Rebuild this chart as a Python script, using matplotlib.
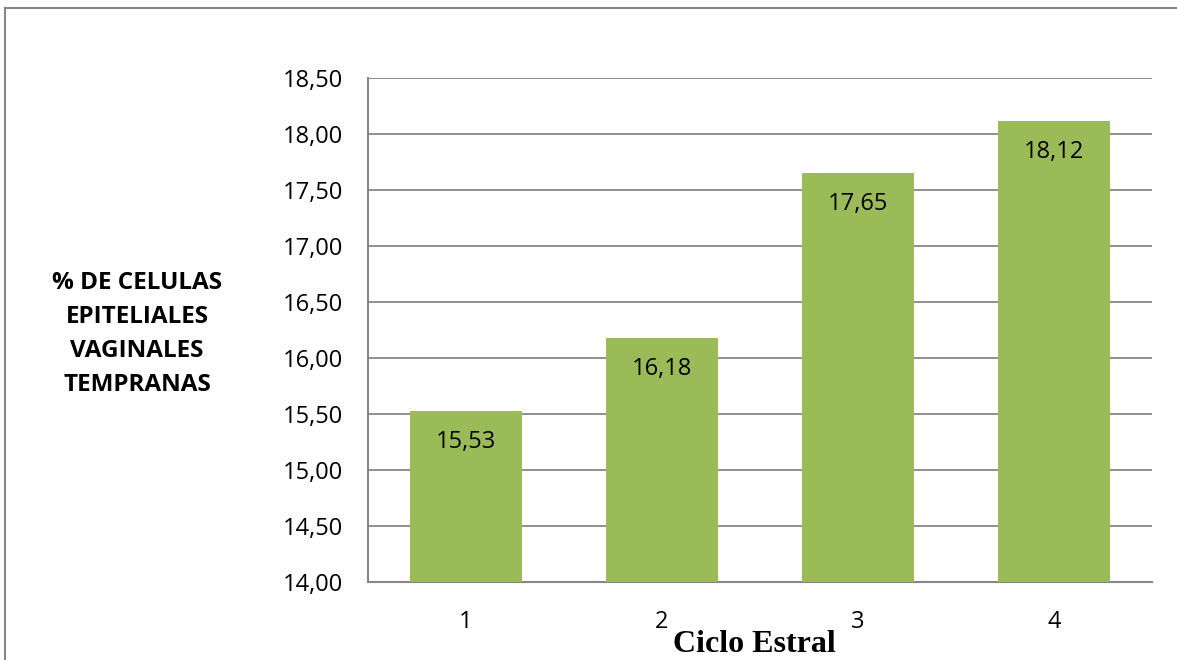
import matplotlib
matplotlib.use('Agg')
import matplotlib.pyplot as plt
from matplotlib.lines import Line2D
from matplotlib.ticker import MultipleLocator, FuncFormatter

# Porcentaje medio por ciclo estral
ciclos = ['1', '2', '3', '4']
porcentajes = [15.53, 16.18, 17.65, 18.12]

verde = '#9BBB59'
gris = '#868686'

fig = plt.figure(figsize=(11.77, 6.6), dpi=100)
ax = fig.add_axes([0.3127, 0.1182, 0.6661, 0.7636])

x = list(range(len(ciclos)))
ax.bar(x, porcentajes, width=0.571, color=verde, zorder=3)

ax.set_xlim(-0.5, len(ciclos) - 0.5)
ax.set_ylim(14.0, 18.5)
ax.yaxis.set_major_locator(MultipleLocator(0.5))
ax.yaxis.set_major_formatter(FuncFormatter(lambda v, p: f'{v:.2f}'.replace('.', ',')))
ax.set_xticks(x)
ax.set_xticklabels(ciclos)

ax.grid(axis='y', color=gris, linewidth=1.3, zorder=0)
for side in ['top', 'right']:
    ax.spines[side].set_visible(False)
for side in ['left', 'bottom']:
    ax.spines[side].set_color(gris)
    ax.spines[side].set_linewidth(1.5)
ax.tick_params(axis='both', length=0, labelsize=17)
ax.tick_params(axis='y', pad=18)
ax.tick_params(axis='x', pad=20)
for lbl in ax.get_xticklabels() + ax.get_yticklabels():
    lbl.set_fontfamily('Open Sans')

# Etiquetas de valor dentro de cada barra
for xi, val in zip(x, porcentajes):
    ax.annotate(f'{val:.2f}'.replace('.', ','), (xi, val), xytext=(0, -22.5),
                textcoords='offset points', ha='center', va='center',
                fontsize=17, fontfamily='Open Sans', zorder=4)

fig.text(0.1164, 0.494, '% DE CELULAS\nEPITELIALES\nVAGINALES\nTEMPRANAS',
         ha='center', va='center', multialignment='center', fontsize=17.5,
         fontweight='bold', fontfamily='Open Sans', linespacing=1.56)

fig.text(0.6406, 0.023, 'Ciclo Estral', ha='center', va='center', fontsize=23,
         fontweight='bold', fontfamily='Liberation Serif')

# Marco del gráfico
fig.add_artist(Line2D([5 / 1177, 5 / 1177], [0, 1 - 8 / 660], color=gris, linewidth=1.5))
fig.add_artist(Line2D([5 / 1177, 1], [1 - 8 / 660, 1 - 8 / 660], color=gris, linewidth=1.5))

fig.savefig('out.png', dpi=100)
